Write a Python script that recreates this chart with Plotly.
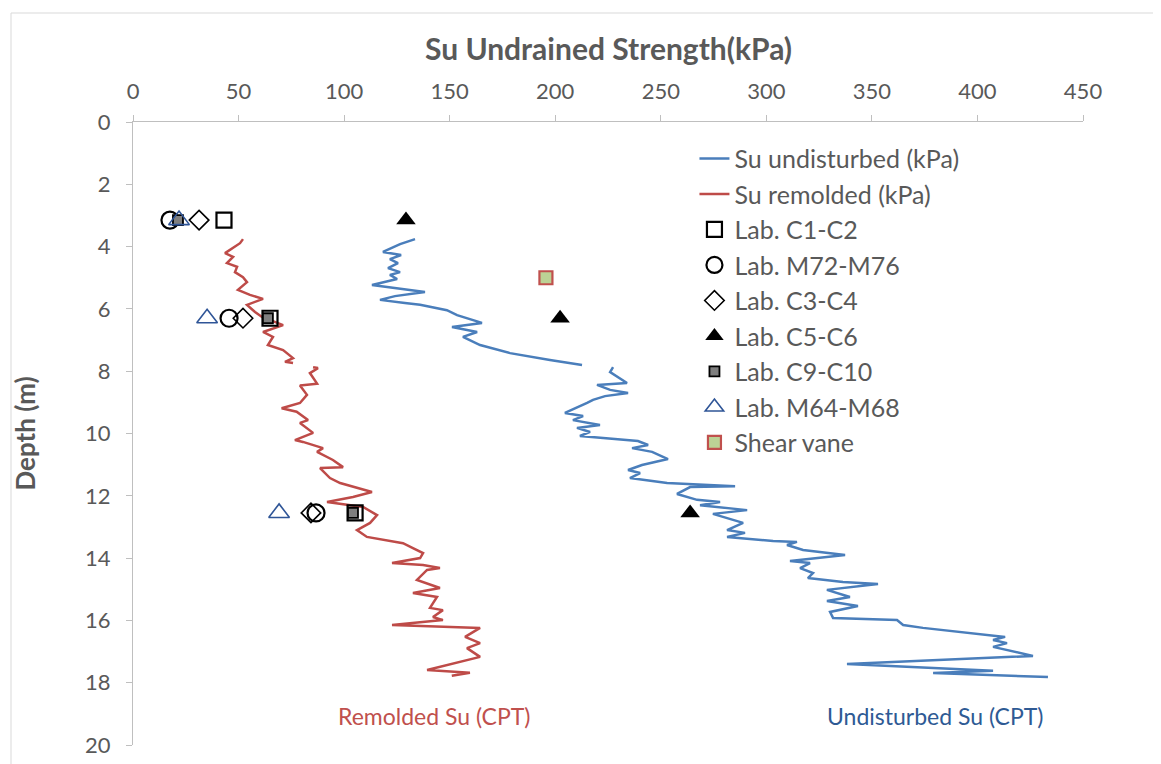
import plotly.graph_objects as go

# ---------------- data ----------------
undisturbed_depth = [3.76, 3.92, 4.17, 4.27, 4.40, 4.53, 4.69, 4.82, 4.91, 5.04, 5.23, 5.36, 5.46, 5.59,
                     5.71, 5.81, 5.87, 6.04, 6.20, 6.45, 6.58, 6.74, 6.90, 7.16, 7.42, 7.64, 7.80, None,
                     7.87, 8.03, 8.38, 8.44, 8.60, 8.70, 8.80, 8.92, 9.02, 9.34, 9.44, 9.57, 9.73, 9.82,
                     9.95, 10.08, 10.24, 10.37, 10.47, 10.59, 10.82, 11.01, 11.17, 11.27, 11.43, 11.59,
                     11.69, 11.72, 11.94, 12.13, 12.20, 12.30, 12.46, 12.58, 12.87, 13.10, 13.19, 13.32,
                     13.45, 13.48, 13.58, 13.74, 13.90, 14.09, 14.16, 14.32, 14.48, 14.64, 14.77, 14.83,
                     15.02, 15.25, 15.38, 15.54, 15.73, 15.92, 15.99, 16.15, 16.24, 16.44, 16.53, 16.63,
                     16.73, 16.85, 16.92, 17.14, 17.40, 17.62, 17.69, 17.82]
undisturbed_su = [133.6, 126.5, 118.4, 127.0, 121.7, 125.5, 120.8, 126.5, 121.7, 125.1, 113.2, 126.5, 138.3, 124.1,
                  117.0, 128.8, 136.0, 148.7, 153.5, 165.3, 151.1, 163.0, 156.3, 164.4, 178.6, 197.5, 212.7, None,
                  227.4, 226.0, 234.0, 219.8, 226.0, 234.5, 223.6, 217.9, 215.1, 204.6, 213.2, 208.4, 221.2, 210.3,
                  216.5, 211.7, 239.2, 244.0, 236.4, 245.9, 253.4, 241.1, 234.5, 240.2, 235.4, 253.0,
                  285.2, 263.9, 257.7, 267.2, 278.1, 268.6, 290.9, 274.7, 289.0, 281.4, 289.9, 281.4,
                  303.2, 314.5, 309.8, 317.4, 337.3, 311.2, 320.7, 316.0, 322.1, 319.7, 336.3, 352.9,
                  328.7, 339.6, 328.7, 343.4, 330.2, 331.6, 361.9, 364.8, 374.2, 399.8, 413.1, 407.4,
                  414.0, 407.4, 412.1, 426.3, 338.2, 407.4, 379.0, 433.4]

remolded_depth = [3.76, 3.89, 4.21, 4.33, 4.53, 4.65, 4.82, 4.98, 5.14, 5.39, 5.55, 5.68, 5.87, 6.10, 6.26,
                  6.52, 6.74, 6.90, 7.16, 7.32, 7.58, 7.70, 7.74, None,
                  7.87, 7.90, 8.06, 8.40, 8.46, 8.76, 9.02, 9.19, 9.30, 9.57, 9.66, 9.98, 10.21, 10.27,
                  10.47, 10.59, 10.85, 11.08, 11.11, 11.43, 11.59, 11.88, 12.04, 12.20, 12.36, 12.62,
                  12.87, 13.10, 13.32, 13.52, 13.68, 13.84, 14.00, 14.16, 14.22, 14.32, 14.38, 14.70,
                  14.96, 15.12, 15.25, 15.60, 15.67, 15.89, 15.99, 16.15, 16.24, 16.53, 16.73, 16.89,
                  17.17, 17.59, 17.68, 17.78]
remolded_su = [52.1, 50.7, 43.6, 47.4, 44.5, 49.3, 48.3, 52.1, 54.0, 49.7, 55.4, 61.6, 54.0, 57.8, 61.1,
               71.1, 61.6, 66.3, 63.9, 71.1, 75.8, 72.0, 75.8, None,
               85.3, 87.6, 83.8, 87.2, 79.1, 82.4, 79.1, 70.4, 77.5, 82.9, 79.1, 85.3, 76.7, 80.5,
               90.0, 87.2, 94.7, 99.5, 88.6, 93.3, 98.1, 113.2, 104.2, 91.9, 109.0, 115.6,
               112.3, 106.1, 110.8, 127.9, 132.6, 137.4, 136.0, 122.7, 137.4, 145.4, 139.3, 134.5,
               145.4, 132.6, 144.0, 140.7, 146.8, 142.1, 146.8, 122.7, 164.4, 157.3, 164.4, 158.2,
               164.4, 139.3, 159.6, 151.0]

lab_depth = [3.15, 6.3, 12.55]
lab_c1_c2 = [43.1, 64.9, 105.2]
lab_m72_m76 = [17.5, 45.5, 86.7]
lab_c3_c4 = [31.3, 52.1, 84.3]
lab_c5_c6 = [129.3, 202.3, 263.9]
lab_c9_c10 = [21.3, 63.9, 104.2]
lab_m64_m68 = [21.8, 35.1, 69.2]
shear_vane_depth = [5.0]
shear_vane_su = [195.6]

x_ticks = [0, 50, 100, 150, 200, 250, 300, 350, 400, 450]
y_ticks = [0, 2, 4, 6, 8, 10, 12, 14, 16, 18, 20]

# ---------------- styles ----------------
FONT = "Lato"
GREY = "#595959"
BLUE = "#4A7EBB"
RED = "#BE4B48"

fig = go.Figure()

fig.add_trace(go.Scatter(x=undisturbed_su, y=undisturbed_depth, mode="lines",
                         name="Su undisturbed (kPa)", legendgroup="a",
                         line=dict(color=BLUE, width=2.5), connectgaps=False))
fig.add_trace(go.Scatter(x=remolded_su, y=remolded_depth, mode="lines",
                         name="Su remolded (kPa)", legendgroup="b",
                         line=dict(color=RED, width=2.5), connectgaps=False))

marker_series = [
    ("Lab. C1-C2", lab_c1_c2, dict(symbol="square-open", size=15, color="black", line=dict(width=2.2, color="black"))),
    ("Lab. M72-M76", lab_m72_m76, dict(symbol="circle-open", size=17, color="black", line=dict(width=2.2, color="black"))),
    ("Lab. C3-C4", lab_c3_c4, dict(symbol="diamond-open", size=15, color="black", line=dict(width=1.6, color="black"))),
    ("Lab. C5-C6", lab_c5_c6, dict(symbol="triangle-up", size=17, color="black", line=dict(width=0))),
    ("Lab. C9-C10", lab_c9_c10, dict(symbol="square", size=10, color="#7F7F7F", line=dict(width=1.8, color="black"))),
    ("Lab. M64-M68", lab_m64_m68, dict(symbol="triangle-up-open", size=18, color="#2F5597", line=dict(width=1.6, color="#2F5597"))),
]
for i, (name, vals, mk) in enumerate(marker_series):
    fig.add_trace(go.Scatter(x=vals, y=lab_depth, mode="markers", name=name,
                             legendgroup="m%d" % i, marker=mk))

fig.add_trace(go.Scatter(x=shear_vane_su, y=shear_vane_depth, mode="markers", name="Shear vane",
                         legendgroup="sv",
                         marker=dict(symbol="square", size=13, color="#BCD295",
                                     line=dict(width=2.2, color="#C0504D"))))

axis_common = dict(showgrid=False, zeroline=False, showline=True, linecolor="#BFBFBF", linewidth=1.3,
                   ticks="outside", ticklen=6, tickcolor="#BFBFBF", tickwidth=1.3,
                   tickfont=dict(family=FONT, size=22, color=GREY))

fig.update_layout(
    width=1161, height=764,
    margin=dict(l=125, r=86, t=114, b=27),
    paper_bgcolor="white", plot_bgcolor="white",
    font=dict(family=FONT, color=GREY),
    xaxis=dict(range=[0, 450], side="top", tickmode="array", tickvals=x_ticks,
               ticklabelstandoff=7, **axis_common),
    yaxis=dict(range=[20, 0], tickmode="array", tickvals=y_ticks,
               ticklabelstandoff=11, **axis_common),
    showlegend=True,
    legend=dict(x=0.591, y=0.978, xanchor="left", yanchor="top",
                font=dict(family=FONT, size=25, color=GREY),
                bgcolor="rgba(0,0,0,0)", tracegroupgap=0, traceorder="grouped",
                itemwidth=30),
)

fig.add_annotation(text="<b>Su Undrained Strength(kPa)</b>", xref="paper", yref="paper",
                   x=0.5, y=1.118, showarrow=False, xanchor="center", yanchor="middle",
                   font=dict(family=FONT, size=30, color=GREY))
fig.add_annotation(text="<b>Depth (m)</b>", xref="paper", yref="paper",
                   x=-0.1137, y=0.5, textangle=-90, showarrow=False, xanchor="center", yanchor="middle",
                   font=dict(family=FONT, size=26, color=GREY))
fig.add_annotation(text="Remolded Su (CPT)", x=143, y=19.07, xref="x", yref="y", showarrow=False,
                   font=dict(family=FONT, size=23, color="#C0504D"))
fig.add_annotation(text="Undisturbed Su (CPT)", x=380, y=19.07, xref="x", yref="y", showarrow=False,
                   font=dict(family=FONT, size=23, color="#2E5A94"))

# faint chart border (top and left edges)
fig.add_shape(type="line", xref="paper", yref="paper", x0=-122/950, x1=1.1, y0=1+109/623, y1=1+109/623,
              line=dict(color="#D9D9D9", width=1))
fig.add_shape(type="line", xref="paper", yref="paper", x0=-122/950, x1=-122/950, y0=-0.05, y1=1+109/623,
              line=dict(color="#D9D9D9", width=1))

fig.write_html("out.html")
